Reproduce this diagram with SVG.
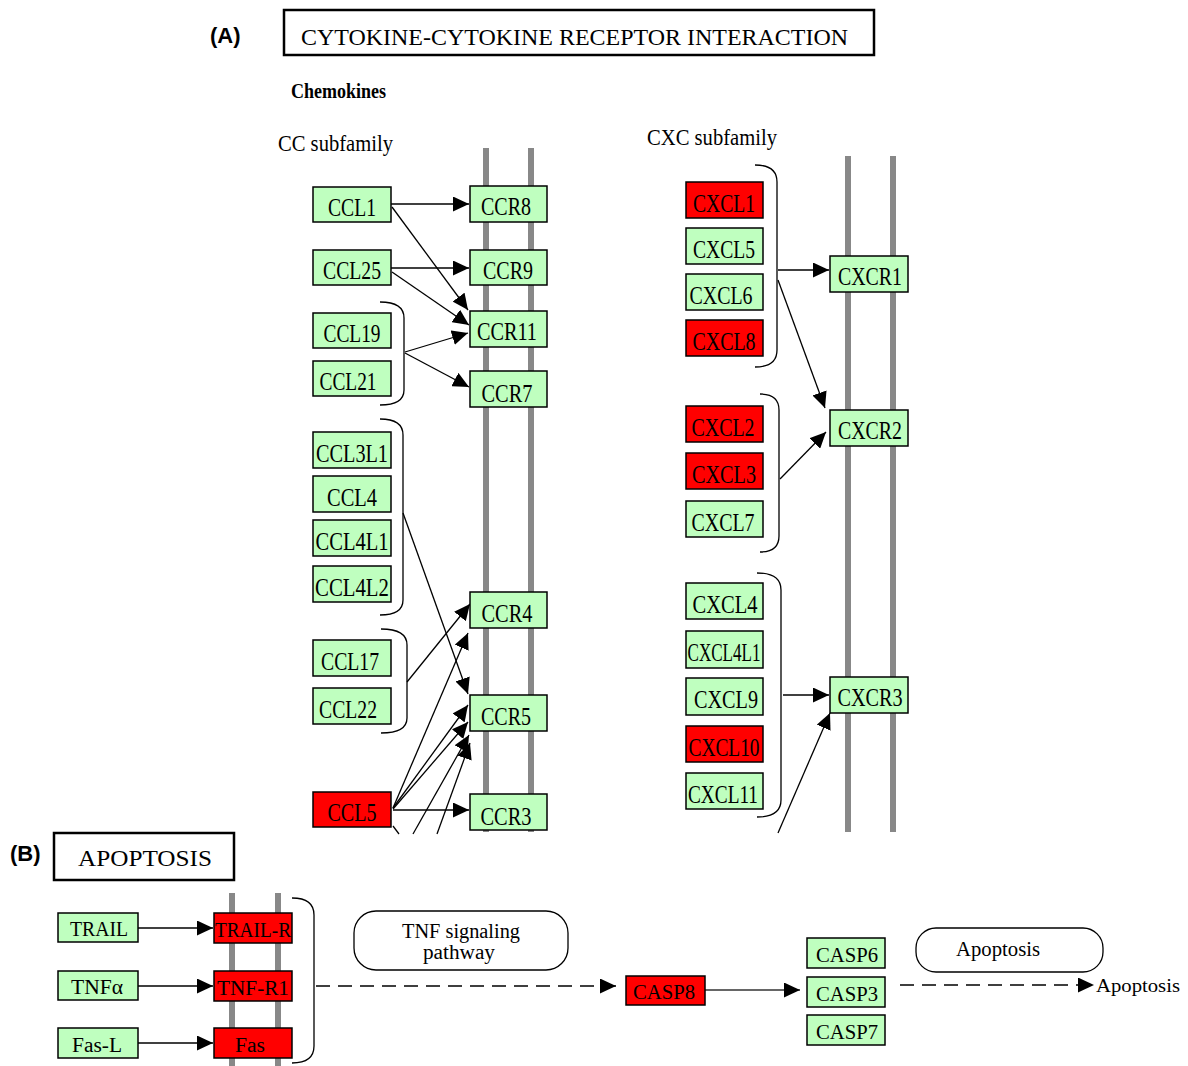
<svg xmlns="http://www.w3.org/2000/svg" width="1188" height="1066" viewBox="0 0 1188 1066">
<defs>
<marker id="ah" markerUnits="userSpaceOnUse" markerWidth="17" markerHeight="15" refX="16" refY="7.5" orient="auto">
<path d="M0,0 L16,7.5 L0,15 z" fill="#000"/>
</marker>
</defs>
<style>
.g{fill:#bfffbf;stroke:#000;stroke-width:1.5}
.r{fill:#ff0000;stroke:#000;stroke-width:1.5}
.t{font-family:"Liberation Serif",serif;font-size:25px;fill:#000;text-anchor:middle}
.tb{font-family:"Liberation Serif",serif;font-size:20px;fill:#000;text-anchor:middle}
.mem{stroke:#888;stroke-width:6;fill:none}
.ln{stroke:#000;stroke-width:1.3;fill:none;marker-end:url(#ah)}
.br{stroke:#000;stroke-width:1.3;fill:none}
.lab{font-family:"Liberation Serif",serif;fill:#000}
.hd{font-family:"Liberation Sans",Arial,sans-serif;font-weight:bold;font-size:22px;fill:#000}
</style>
<rect width="1188" height="1066" fill="#fff"/>

<!-- headers -->
<text class="hd" x="210" y="43">(A)</text>
<rect x="284" y="10" width="590" height="45" fill="#fff" stroke="#000" stroke-width="2.5"/>
<text class="lab" x="301" y="45" font-size="24" textLength="547" lengthAdjust="spacingAndGlyphs">CYTOKINE-CYTOKINE RECEPTOR INTERACTION</text>
<text class="lab" x="291" y="98" font-size="21" font-weight="bold" textLength="95" lengthAdjust="spacingAndGlyphs">Chemokines</text>
<text class="lab" x="278" y="151" font-size="23" textLength="115" lengthAdjust="spacingAndGlyphs">CC subfamily</text>
<text class="lab" x="647" y="145" font-size="23" textLength="130" lengthAdjust="spacingAndGlyphs">CXC subfamily</text>

<!-- membranes -->
<g id="membranes">
<line class="mem" x1="486" y1="148" x2="486" y2="832"/>
<line class="mem" x1="531" y1="148" x2="531" y2="832"/>
<line class="mem" x1="848" y1="156" x2="848" y2="832"/>
<line class="mem" x1="893" y1="156" x2="893" y2="832"/>
<line class="mem" x1="232" y1="893" x2="232" y2="1066"/>
<line class="mem" x1="278" y1="893" x2="278" y2="1066"/>
</g>

<!-- connectors -->
<g id="connectors">
<line class="ln" x1="391" y1="204" x2="469" y2="204"/>
<line class="ln" x1="392" y1="207" x2="468" y2="310"/>
<line class="ln" x1="391" y1="268" x2="469" y2="268"/>
<line class="ln" x1="392" y1="272" x2="469" y2="325"/>
<line class="ln" x1="405" y1="352" x2="468" y2="333"/>
<line class="ln" x1="405" y1="353" x2="469" y2="387"/>
<line class="ln" x1="403" y1="513" x2="468" y2="694"/>
<line class="ln" x1="407" y1="682" x2="470" y2="604"/>
<line class="ln" x1="393" y1="808" x2="468" y2="633"/>
<line class="ln" x1="393" y1="808" x2="468" y2="705"/>
<line class="ln" x1="393" y1="809" x2="468" y2="722"/>
<line class="ln" x1="413" y1="834" x2="469" y2="735"/>
<line class="ln" x1="437" y1="834" x2="470" y2="743"/>
<line class="br" x1="393" y1="826" x2="399" y2="834"/>
<line class="ln" x1="393" y1="810" x2="469" y2="810"/>

<line class="ln" x1="778" y1="270" x2="829" y2="270"/>
<line class="ln" x1="778" y1="280" x2="825" y2="408"/>
<line class="ln" x1="780" y1="479" x2="826" y2="432"/>
<line class="ln" x1="783" y1="695" x2="829" y2="695"/>
<line class="ln" x1="778" y1="833" x2="830" y2="713"/>

<line class="ln" x1="138" y1="928" x2="213" y2="928"/>
<line class="ln" x1="138" y1="986" x2="213" y2="986"/>
<line class="ln" x1="138" y1="1043" x2="213" y2="1043"/>
<line class="ln" x1="316" y1="986" x2="616" y2="986" stroke-dasharray="14,8"/>
<line x1="705" y1="990" x2="800" y2="990" stroke="#666" stroke-width="2" marker-end="url(#ah)"/>
<line class="ln" x1="900" y1="985" x2="1094" y2="985" stroke-dasharray="14,8"/>

<!-- brackets -->
<path class="br" d="M380,302 Q404,302 404,318 L404,390 Q404,405 380,405"/>
<path class="br" d="M380,419 Q403,419 403,435 L403,600 Q403,615 380,615"/>
<path class="br" d="M381,629 Q407,629 407,645 L407,718 Q407,733 381,733"/>
<path class="br" d="M755,165 Q777,165 777,182 L777,350 Q777,367 755,367"/>
<path class="br" d="M760,394 Q779,394 779,410 L779,536 Q779,552 760,552"/>
<path class="br" d="M757,573 Q781,573 781,590 L781,800 Q781,817 757,817"/>
<path class="br" d="M292,898 Q314,898 314,915 L314,1046 Q314,1063 292,1063"/>
</g>

<!-- CC ligands -->
<g id="CCL1"><rect class="g" x="313" y="187" width="78" height="35"/><text class="t" x="352" y="216" textLength="48" lengthAdjust="spacingAndGlyphs">CCL1</text></g>
<g id="CCL25"><rect class="g" x="313" y="250" width="78" height="35"/><text class="t" x="352" y="279" textLength="58" lengthAdjust="spacingAndGlyphs">CCL25</text></g>
<g id="CCL19"><rect class="g" x="313" y="313" width="78" height="35"/><text class="t" x="352" y="342" textLength="57" lengthAdjust="spacingAndGlyphs">CCL19</text></g>
<g id="CCL21"><rect class="g" x="313" y="361" width="78" height="35"/><text class="t" x="348" y="390" textLength="57" lengthAdjust="spacingAndGlyphs">CCL21</text></g>
<g id="CCL3L1"><rect class="g" x="313" y="432" width="78" height="36"/><text class="t" x="352" y="462" textLength="72" lengthAdjust="spacingAndGlyphs">CCL3L1</text></g>
<g id="CCL4"><rect class="g" x="313" y="476" width="78" height="36"/><text class="t" x="352" y="506" textLength="50" lengthAdjust="spacingAndGlyphs">CCL4</text></g>
<g id="CCL4L1"><rect class="g" x="313" y="520" width="78" height="36"/><text class="t" x="352" y="550" textLength="73" lengthAdjust="spacingAndGlyphs">CCL4L1</text></g>
<g id="CCL4L2"><rect class="g" x="313" y="566" width="78" height="36"/><text class="t" x="352" y="596" textLength="74" lengthAdjust="spacingAndGlyphs">CCL4L2</text></g>
<g id="CCL17"><rect class="g" x="313" y="640" width="78" height="36"/><text class="t" x="350" y="670" textLength="58" lengthAdjust="spacingAndGlyphs">CCL17</text></g>
<g id="CCL22"><rect class="g" x="313" y="688" width="78" height="36"/><text class="t" x="348" y="718" textLength="58" lengthAdjust="spacingAndGlyphs">CCL22</text></g>
<g id="CCL5"><rect class="r" x="313" y="792" width="78" height="35"/><text class="t" x="352" y="821" textLength="49" lengthAdjust="spacingAndGlyphs">CCL5</text></g>

<!-- CC receptors -->
<g id="CCR8"><rect class="g" x="470" y="186" width="77" height="36"/><text class="t" x="506" y="215" textLength="50" lengthAdjust="spacingAndGlyphs">CCR8</text></g>
<g id="CCR9"><rect class="g" x="470" y="250" width="77" height="35"/><text class="t" x="508" y="279" textLength="50" lengthAdjust="spacingAndGlyphs">CCR9</text></g>
<g id="CCR11"><rect class="g" x="470" y="311" width="77" height="36"/><text class="t" x="507" y="340" textLength="60" lengthAdjust="spacingAndGlyphs">CCR11</text></g>
<g id="CCR7"><rect class="g" x="470" y="371" width="77" height="36"/><text class="t" x="507" y="402" textLength="51" lengthAdjust="spacingAndGlyphs">CCR7</text></g>
<g id="CCR4"><rect class="g" x="470" y="592" width="77" height="36"/><text class="t" x="507" y="622" textLength="51" lengthAdjust="spacingAndGlyphs">CCR4</text></g>
<g id="CCR5"><rect class="g" x="470" y="695" width="77" height="36"/><text class="t" x="506" y="725" textLength="50" lengthAdjust="spacingAndGlyphs">CCR5</text></g>
<g id="CCR3"><rect class="g" x="470" y="794" width="77" height="36"/><text class="t" x="506" y="825" textLength="51" lengthAdjust="spacingAndGlyphs">CCR3</text></g>

<!-- CXC ligands -->
<g id="CXCL1"><rect class="r" x="686" y="182" width="77" height="36"/><text class="t" x="724" y="212" textLength="62" lengthAdjust="spacingAndGlyphs">CXCL1</text></g>
<g id="CXCL5"><rect class="g" x="686" y="228" width="77" height="36"/><text class="t" x="724" y="258" textLength="62" lengthAdjust="spacingAndGlyphs">CXCL5</text></g>
<g id="CXCL6"><rect class="g" x="686" y="274" width="77" height="36"/><text class="t" x="721" y="304" textLength="63" lengthAdjust="spacingAndGlyphs">CXCL6</text></g>
<g id="CXCL8"><rect class="r" x="686" y="320" width="77" height="36"/><text class="t" x="724" y="350" textLength="63" lengthAdjust="spacingAndGlyphs">CXCL8</text></g>
<g id="CXCL2"><rect class="r" x="686" y="406" width="77" height="36"/><text class="t" x="723" y="436" textLength="63" lengthAdjust="spacingAndGlyphs">CXCL2</text></g>
<g id="CXCL3"><rect class="r" x="686" y="453" width="77" height="36"/><text class="t" x="724" y="483" textLength="64" lengthAdjust="spacingAndGlyphs">CXCL3</text></g>
<g id="CXCL7"><rect class="g" x="686" y="501" width="77" height="36"/><text class="t" x="723" y="531" textLength="63" lengthAdjust="spacingAndGlyphs">CXCL7</text></g>
<g id="CXCL4"><rect class="g" x="686" y="583" width="77" height="36"/><text class="t" x="725" y="613" textLength="65" lengthAdjust="spacingAndGlyphs">CXCL4</text></g>
<g id="CXCL4L1"><rect class="g" x="686" y="631" width="77" height="37"/><text class="t" x="724" y="661" textLength="73" lengthAdjust="spacingAndGlyphs">CXCL4L1</text></g>
<g id="CXCL9"><rect class="g" x="686" y="678" width="77" height="37"/><text class="t" x="726" y="708" textLength="64" lengthAdjust="spacingAndGlyphs">CXCL9</text></g>
<g id="CXCL10"><rect class="r" x="686" y="726" width="77" height="36"/><text class="t" x="724" y="756" textLength="71" lengthAdjust="spacingAndGlyphs">CXCL10</text></g>
<g id="CXCL11"><rect class="g" x="686" y="773" width="77" height="36"/><text class="t" x="723" y="803" textLength="70" lengthAdjust="spacingAndGlyphs">CXCL11</text></g>

<!-- CXC receptors -->
<g id="CXCR1"><rect class="g" x="830" y="256" width="78" height="36"/><text class="t" x="870" y="285" textLength="64" lengthAdjust="spacingAndGlyphs">CXCR1</text></g>
<g id="CXCR2"><rect class="g" x="830" y="410" width="78" height="36"/><text class="t" x="870" y="439" textLength="64" lengthAdjust="spacingAndGlyphs">CXCR2</text></g>
<g id="CXCR3"><rect class="g" x="830" y="677" width="78" height="36"/><text class="t" x="870" y="706" textLength="65" lengthAdjust="spacingAndGlyphs">CXCR3</text></g>

<!-- Part B -->
<text class="hd" x="10" y="861">(B)</text>
<rect x="54" y="833" width="180" height="47" fill="#fff" stroke="#000" stroke-width="2.5"/>
<text class="lab" x="78" y="866" font-size="23" textLength="134" lengthAdjust="spacingAndGlyphs">APOPTOSIS</text>

<g id="TRAIL"><rect class="g" x="58" y="913" width="80" height="29"/><text class="tb" x="99" y="936" textLength="58" lengthAdjust="spacingAndGlyphs">TRAIL</text></g>
<g id="TNFa"><rect class="g" x="58" y="971" width="80" height="29"/><text class="tb" x="97" y="994" textLength="52" lengthAdjust="spacingAndGlyphs">TNFα</text></g>
<g id="FasL"><rect class="g" x="58" y="1028" width="80" height="30"/><text class="tb" x="97" y="1052" textLength="50" lengthAdjust="spacingAndGlyphs">Fas-L</text></g>
<g id="TRAIL-R"><rect class="r" x="214" y="913" width="78" height="30"/><text class="tb" x="253" y="937" textLength="76" lengthAdjust="spacingAndGlyphs">TRAIL-R</text></g>
<g id="TNF-R1"><rect class="r" x="214" y="971" width="78" height="30"/><text class="tb" x="253" y="995" textLength="72" lengthAdjust="spacingAndGlyphs">TNF-R1</text></g>
<g id="Fas"><rect class="r" x="214" y="1028" width="78" height="30"/><text class="tb" x="250" y="1052" textLength="30" lengthAdjust="spacingAndGlyphs">Fas</text></g>

<g id="TNFpathway"><rect x="354" y="911" width="214" height="59" rx="22" fill="#fff" stroke="#000" stroke-width="1.3"/>
<text class="tb" x="461" y="938" font-size="16" textLength="118" lengthAdjust="spacingAndGlyphs">TNF signaling</text>
<text class="tb" x="459" y="959" font-size="16" textLength="72" lengthAdjust="spacingAndGlyphs">pathway</text></g>

<g id="CASP8"><rect class="r" x="626" y="976" width="79" height="29"/><text class="tb" x="664" y="999" textLength="62" lengthAdjust="spacingAndGlyphs">CASP8</text></g>
<g id="CASP6"><rect class="g" x="807" y="938" width="78" height="30"/><text class="tb" x="847" y="962" textLength="62" lengthAdjust="spacingAndGlyphs">CASP6</text></g>
<g id="CASP3"><rect class="g" x="807" y="977" width="78" height="30"/><text class="tb" x="847" y="1001" textLength="62" lengthAdjust="spacingAndGlyphs">CASP3</text></g>
<g id="CASP7"><rect class="g" x="807" y="1015" width="78" height="30"/><text class="tb" x="847" y="1039" textLength="62" lengthAdjust="spacingAndGlyphs">CASP7</text></g>

<g id="ApoptosisPathway"><rect x="916" y="928" width="187" height="44" rx="20" fill="#fff" stroke="#000" stroke-width="1.3"/>
<text class="tb" x="998" y="956" font-size="19" textLength="84" lengthAdjust="spacingAndGlyphs">Apoptosis</text></g>
<text class="lab" x="1096" y="992" font-size="19" textLength="84" lengthAdjust="spacingAndGlyphs">Apoptosis</text>
</svg>
